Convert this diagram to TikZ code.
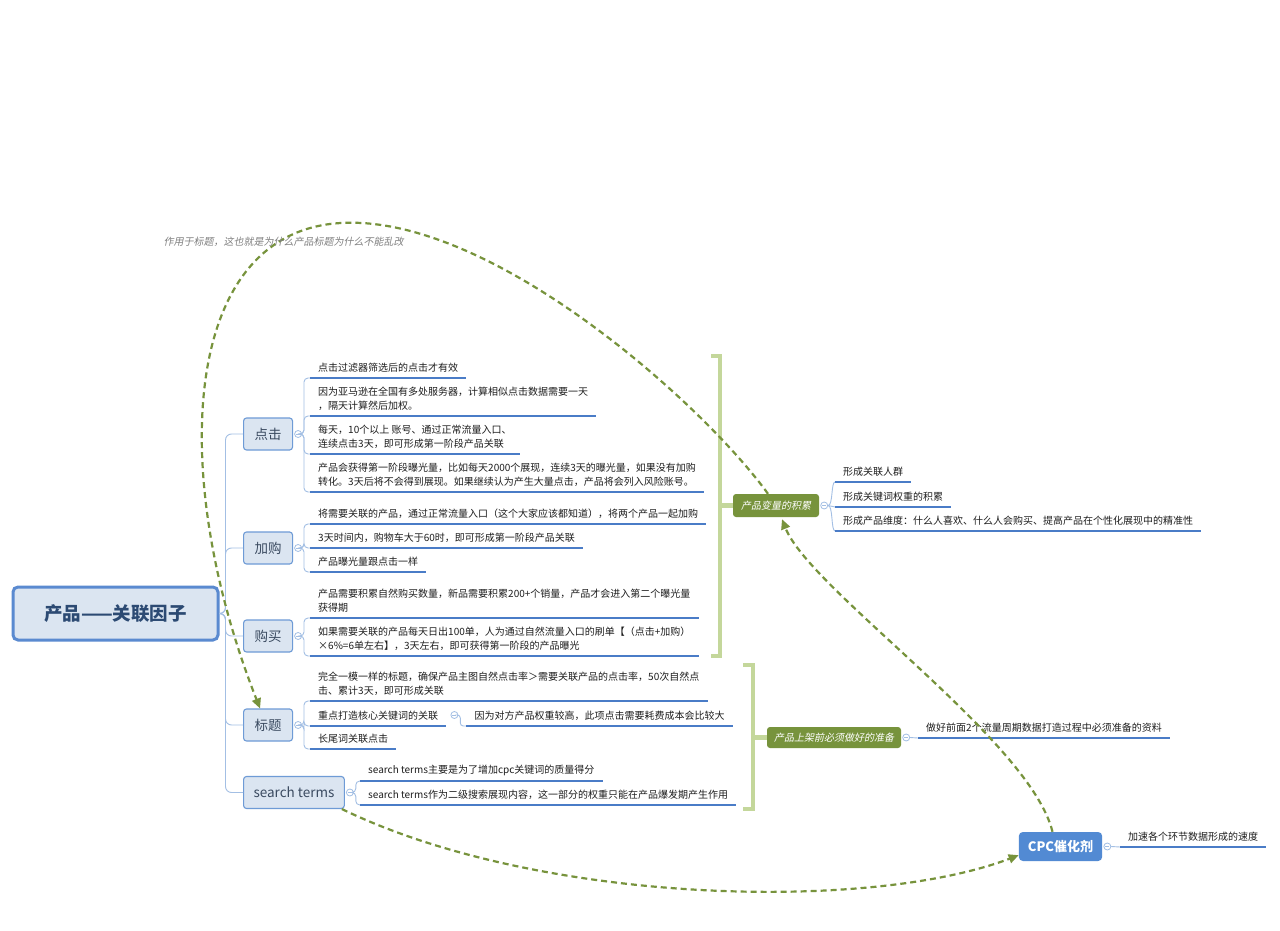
\documentclass[tikz,border=0pt]{standalone}
\usepackage{fontspec}
\setmainfont{Noto Sans CJK SC}
\newfontfamily\cjkslant{Noto Sans CJK SC}[FakeSlant=0.2]
\usetikzlibrary{calc,arrows.meta}
\definecolor{nodefill}{HTML}{DBE5F1}
\definecolor{nodeborder}{HTML}{6E9BD6}
\definecolor{rootborder}{HTML}{5A8AD0}
\definecolor{roottext}{HTML}{2C4A73}
\definecolor{subtext}{HTML}{3A4A60}
\definecolor{leaftext}{HTML}{1E1E1E}
\definecolor{ulinecol}{HTML}{4A7CC7}
\definecolor{conncol}{HTML}{A3BFE4}
\definecolor{olive}{HTML}{77933C}
\definecolor{bracketcol}{HTML}{C4D79B}
\definecolor{cpcblue}{HTML}{528AD3}
\definecolor{labelgray}{HTML}{808080}
\newcommand\leaffont{\fontsize{10pt}{14pt}\selectfont}
\begin{document}
\begin{tikzpicture}[x=1pt,y=-1pt,
  rootnode/.style={draw=rootborder, line width=3pt, fill=nodefill, rounded corners=5pt,
    minimum width=205pt, minimum height=53pt, text=roottext,
    font=\fontsize{18.5pt}{22pt}\selectfont\bfseries},
  subnode/.style={draw=nodeborder, fill=nodefill, rounded corners=3pt, line width=1.1pt,
    minimum width=49pt, minimum height=32pt, inner xsep=10pt, text=subtext,
    font=\fontsize{13.5pt}{16pt}\selectfont, anchor=west},
  leaf/.style={font=\leaffont, align=left, inner xsep=8pt, inner ysep=5pt,
    anchor=south west, text=leaftext},
  uline/.style={draw=ulinecol, line width=2.2pt},
  conn/.style={draw=conncol, line width=0.9pt},
  marker/.style={circle, draw=conncol, fill=white, minimum size=7pt, inner sep=0pt, line width=0.8pt,
    path picture={\draw[conncol, line width=0.7pt] ([xshift=-2pt]path picture bounding box.center) -- ([xshift=2pt]path picture bounding box.center);}},
  gnode/.style={fill=olive, rounded corners=3pt, text=white, inner xsep=8pt,
    font=\cjkslant\fontsize{10pt}{12pt}\selectfont},
  cpcnode/.style={fill=cpcblue, rounded corners=4pt, text=white, inner xsep=9pt, minimum height=29pt,
    font=\fontsize{13pt}{15pt}\selectfont\bfseries},
  bracketline/.style={draw=bracketcol, line width=4.5pt},
  rel/.style={draw=olive, line width=2.2pt, dash pattern=on 6pt off 4pt,
    -{Triangle[length=10pt,width=9pt]}},
  lbl/.style={text=labelgray, font=\cjkslant\fontsize{10pt}{12pt}\selectfont}
]
\fill[white] (0,0) rectangle (1280,931);
\useasboundingbox (0,0) rectangle (1280,931);

% root and main branches
\node[rootnode] (root) at (115.5,613.5) {产品——关联因子};
\node[subnode] (dj) at (243,434) {点击};
\node[subnode] (jg) at (243,548) {加购};
\node[subnode] (gm) at (243,636) {购买};
\node[subnode] (bt) at (243,725) {标题};
\node[subnode] (st) at (243,792.5) {search terms};
\foreach \n in {dj,jg,gm,bt,st}
  \draw[conn, rounded corners=6pt] (root.east) -- ++(6,0) |- (\n.west);
\foreach \n in {dj,jg,gm,bt,st}
  \node[marker] (m\n) at ($(\n.east)+(5,0)$) {};

% 点击
\node[leaf] (d1) at (310,378) {点击过滤器筛选后的点击才有效};
\node[leaf] (d2) at (310,416) {因为亚马逊在全国有多处服务器，计算相似点击数据需要一天\\，隔天计算然后加权。};
\node[leaf] (d3) at (310,454) {每天，10个以上 账号、通过正常流量入口、\\连续点击3天，即可形成第一阶段产品关联};
\node[leaf] (d4) at (310,492) {产品会获得第一阶段曝光量，比如每天2000个展现，连续3天的曝光量，如果没有加购\\转化。3天后将不会得到展现。如果继续认为产生大量点击，产品将会列入风险账号。};
\foreach \n in {d1,d2,d3,d4} {
  \draw[conn, rounded corners=4pt] (mdj.east) -- ++(2,0) |- (\n.south west);
  \draw[uline] (\n.south west) -- (\n.south east);
}

% 加购
\node[leaf] (j1) at (310,524) {将需要关联的产品，通过正常流量入口（这个大家应该都知道），将两个产品一起加购};
\node[leaf] (j2) at (310,548) {3天时间内，购物车大于60时，即可形成第一阶段产品关联};
\node[leaf] (j3) at (310,572) {产品曝光量跟点击一样};
\foreach \n in {j1,j2,j3} {
  \draw[conn, rounded corners=4pt] (mjg.east) -- ++(2,0) |- (\n.south west);
  \draw[uline] (\n.south west) -- (\n.south east);
}

% 购买
\node[leaf] (g1) at (310,618) {产品需要积累自然购买数量，新品需要积累200+个销量，产品才会进入第二个曝光量\\获得期};
\node[leaf] (g2) at (310,656) {如果需要关联的产品每天日出100单，人为通过自然流量入口的刷单【（点击+加购）\\×6\%=6单左右】，3天左右，即可获得第一阶段的产品曝光};
\foreach \n in {g1,g2} {
  \draw[conn, rounded corners=4pt] (mgm.east) -- ++(2,0) |- (\n.south west);
  \draw[uline] (\n.south west) -- (\n.south east);
}

% 标题
\node[leaf] (b1) at (310,701) {完全一模一样的标题，确保产品主图自然点击率＞需要关联产品的点击率，50次自然点\\击、累计3天，即可形成关联};
\node[leaf] (b2) at (310,726) {重点打造核心关键词的关联};
\node[leaf] (b3) at (310,749) {长尾词关联点击};
\foreach \n in {b1,b2,b3} {
  \draw[conn, rounded corners=4pt] (mbt.east) -- ++(2,0) |- (\n.south west);
  \draw[uline] (\n.south west) -- (\n.south east);
}
\node[marker] (mb2) at ($(b2.south east)+(8,-11)$) {};
\node[leaf] (b2g) at ($(b2.south east)+(20,0)$) {因为对方产品权重较高，此项点击需要耗费成本会比较大};
\draw[conn, rounded corners=3pt] (mb2.east) -- ++(2,0) |- (b2g.south west);
\draw[uline] (b2g.south west) -- (b2g.south east);

% search terms
\node[leaf] (s1) at (360,781) {search terms主要是为了增加cpc关键词的质量得分};
\node[leaf] (s2) at (360,805) {search terms作为二级搜索展现内容，这一部分的权重只能在产品爆发期产生作用};
\foreach \n in {s1,s2} {
  \draw[conn, rounded corners=4pt] (mst.east) -- ++(2,0) |- (\n.south west);
  \draw[uline] (\n.south west) -- (\n.south east);
}

% right side: 产品变量的积累
\node[gnode, minimum height=23pt] (pv) at (776,505.5) {产品变量的积累};
\node[marker] (mpv) at ($(pv.east)+(5,0)$) {};
\node[leaf] (r1) at (835,482) {形成关联人群};
\node[leaf] (r2) at (835,507) {形成关键词权重的积累};
\node[leaf] (r3) at (835,531) {形成产品维度：什么人喜欢、什么人会购买、提高产品在个性化展现中的精准性};
\draw[conn] (mpv.east) .. controls ($(mpv.east)+(5,0)$) and ($(r1.south west)+(-4,0)$) .. (r1.south west);
\draw[conn] (mpv.east) -- (r2.south west);
\draw[conn] (mpv.east) .. controls ($(mpv.east)+(5,0)$) and ($(r3.south west)+(-4,0)$) .. (r3.south west);
\foreach \n in {r1,r2,r3} \draw[uline] (\n.south west) -- (\n.south east);

% 产品上架前必须做好的准备
\node[gnode, minimum height=21pt, inner xsep=7pt] (pre) at (834,737.5) {产品上架前必须做好的准备};
\node[marker] (mpre) at ($(pre.east)+(5,0)$) {};
\node[leaf] (p1) at (918,738) {做好前面2个流量周期数据打造过程中必须准备的资料};
\draw[conn] (mpre.east) -- (p1.south west);
\draw[uline] (p1.south west) -- (p1.south east);

% CPC
\node[cpcnode] (cpc) at (1060.5,846.5) {CPC催化剂};
\node[marker] (mcpc) at ($(cpc.east)+(5,0)$) {};
\node[leaf] (k1) at (1120,847) {加速各个环节数据形成的速度};
\draw[conn] (mcpc.east) -- (k1.south west);
\draw[uline] (k1.south west) -- (k1.south east);

% brackets
\draw[bracketline] (711,356) -- (720,356) -- (720,656) -- (711,656);
\draw[bracketline] (720,505.5) -- (pv.west);
\draw[bracketline] (743,665) -- (753,665) -- (753,809) -- (743,809);
\draw[bracketline] (753,737.5) -- (pre.west);

% relationship curves
\coordinate (apex) at (330,224);
\draw[rel] ($(pv.north)+(-8,0)$) .. controls (700,400) and (480,205) .. (apex)
  .. controls (180,243) and (170,480) .. ($(bt.north)+(-8,0)$);
\node[lbl] (lab) at (283.5,242) {作用于标题，这也就是为什么产品标题为什么不能乱改};
\draw[rel] ($(st.south east)+(-3,0)$) .. controls (540,905) and (870,912) .. ($(cpc.south west)+(0,-6)$);
\draw[rel] ($(cpc.north)+(-8,0)$) .. controls (1030,740) and (810,590) .. ($(pv.south)+(6,2)$);
\end{tikzpicture}
\end{document}
